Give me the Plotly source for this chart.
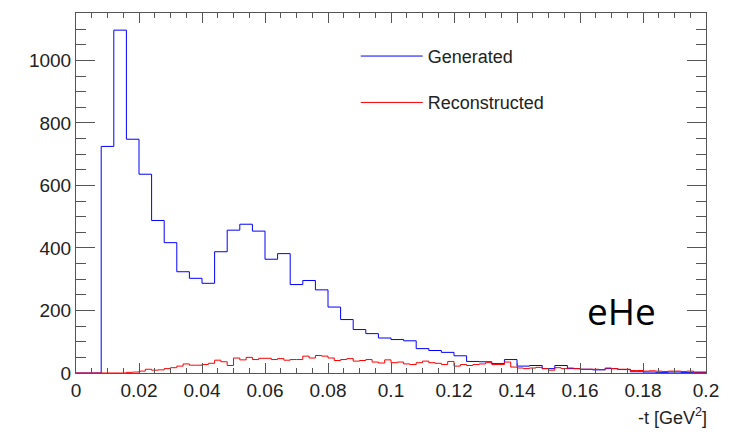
import numpy as np
import plotly.graph_objects as go

# Binning of the two -t histograms
T_MIN, T_MAX = 0.0, 0.2
GEN_BIN_WIDTH = 0.004
REC_BIN_WIDTH = 0.002

# Generated events per 0.004 GeV^2 bin (50 bins)
generated_counts = [
    0, 0, 725, 1097, 748, 636, 488, 417, 324, 303,
    287, 388, 457, 476, 454, 364, 382, 283, 296, 266,
    211, 171, 139, 126, 112, 107, 103, 78, 72, 66,
    55, 37, 36, 30, 43, 22, 24, 14, 24, 14,
    12, 10, 14, 11, 4, 3, 2, 3, 2, 2,
]

# Reconstructed events per 0.002 GeV^2 bin (100 bins)
reconstructed_counts = [
    0, 0, 0, 0, 0, 0, 0, 0, 2, 3,
    6, 12, 9, 10, 14, 17, 22, 29, 25, 25,
    27, 31, 41, 36, 24, 48, 42, 50, 43, 47,
    47, 43, 46, 41, 43, 43, 54, 48, 56, 54,
    48, 40, 43, 46, 38, 40, 43, 35, 32, 42,
    33, 35, 29, 27, 33, 38, 33, 31, 27, 37,
    22, 27, 24, 27, 29, 33, 27, 27, 35, 19,
    16, 14, 16, 18, 14, 9, 17, 14, 16, 14,
    12, 12, 12, 11, 16, 14, 12, 12, 8, 8,
    6, 7, 6, 5, 6, 6, 5, 6, 3, 3,
]

x_ticks = [0, 0.02, 0.04, 0.06, 0.08, 0.1, 0.12, 0.14, 0.16, 0.18, 0.2]
y_ticks = [0, 200, 400, 600, 800, 1000]
y_max = 1.05 * max(generated_counts)


def step_xy(counts, width):
    """Bin edges and counts laid out for an 'hv' step line."""
    n = len(counts)
    edges = T_MIN + width * np.arange(n + 1)
    ys = list(counts) + [counts[-1]]
    return edges, ys


gx, gy = step_xy(generated_counts, GEN_BIN_WIDTH)
rx, ry = step_xy(reconstructed_counts, REC_BIN_WIDTH)

FONT = "Liberation Sans, Arial, sans-serif"
AXIS_COLOR = "#555555"
TEXT_COLOR = "#222222"

fig = go.Figure()
fig.add_trace(go.Scatter(
    x=gx, y=gy, mode="lines", line=dict(color="#0000ff", width=1, shape="hv"),
    name="Generated", legendgroup="gen",
))
fig.add_trace(go.Scatter(
    x=rx, y=ry, mode="lines", line=dict(color="#ff0000", width=1, shape="hv"),
    name="Reconstructed", legendgroup="rec",
))

fig.update_xaxes(
    range=[T_MIN, T_MAX], tickvals=x_ticks, ticktext=[f"{v:g}" for v in x_ticks],
    ticks="inside", ticklen=10, tickwidth=1, tickcolor=AXIS_COLOR,
    minor=dict(dtick=0.005, ticks="inside", ticklen=5, tickcolor=AXIS_COLOR),
    showline=True, linecolor=AXIS_COLOR, linewidth=1, mirror="allticks",
    showgrid=False, zeroline=False,
    tickfont=dict(family=FONT, size=19, color=TEXT_COLOR),
)
fig.update_yaxes(
    range=[0, y_max], tickvals=y_ticks,
    ticks="inside", ticklen=19, tickwidth=1, tickcolor=AXIS_COLOR,
    minor=dict(dtick=50, ticks="inside", ticklen=10, tickcolor=AXIS_COLOR),
    showline=True, linecolor=AXIS_COLOR, linewidth=1, mirror="allticks",
    showgrid=False, zeroline=False,
    tickfont=dict(family=FONT, size=19, color=TEXT_COLOR),
)

fig.add_annotation(
    text="-t [GeV<sup>2</sup>]", xref="paper", yref="paper",
    x=1.004, y=-0.122, xanchor="right", yanchor="middle", showarrow=False,
    font=dict(family=FONT, size=18, color=TEXT_COLOR),
)
fig.add_annotation(
    text="eHe", xref="paper", yref="paper",
    x=0.866, y=0.175, xanchor="center", yanchor="middle", showarrow=False,
    font=dict(family="Open Sans, Noto Sans, sans-serif", size=37, color="#000000"),
)

fig.update_layout(
    width=731, height=436,
    margin=dict(l=76, r=21, t=12, b=63),
    paper_bgcolor="white", plot_bgcolor="white",
    showlegend=True,
    legend=dict(
        x=0.444, y=0.931, xanchor="left", yanchor="top",
        bgcolor="rgba(0,0,0,0)", borderwidth=0,
        font=dict(family=FONT, size=18, color=TEXT_COLOR),
        tracegroupgap=20, itemwidth=62,
    ),
)

fig.write_html("out.html")
